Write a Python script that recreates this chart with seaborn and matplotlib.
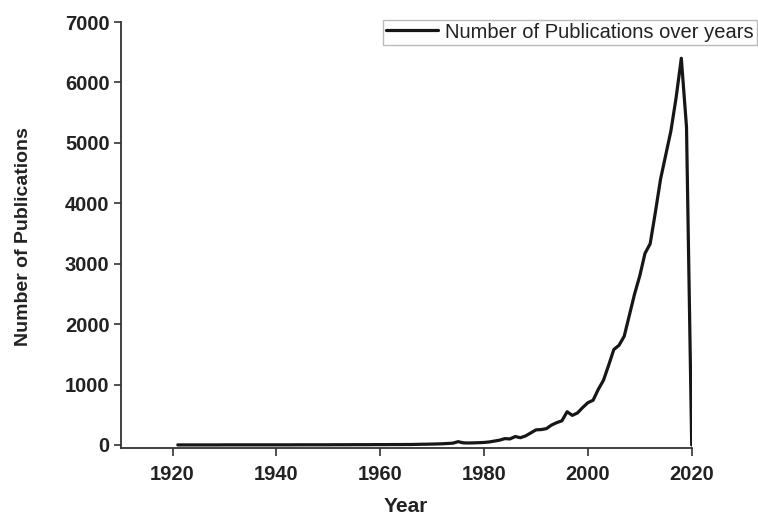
import numpy as np
import pandas as pd
import matplotlib
matplotlib.use("Agg")
import matplotlib.pyplot as plt
import seaborn as sns

years = list(range(1921, 2021))
early_counts = [1, 1, 1, 1, 1, 1, 1, 1, 1, 2,   # 1921-1930
                2, 2, 2, 2, 2, 2, 2, 2, 2, 2,   # 1931-1940
                2, 2, 2, 3, 3, 3, 3, 3, 3, 3,   # 1941-1950
                4, 4, 4, 4, 5, 5, 5, 5, 6, 6,   # 1951-1960
                6, 7, 7, 7, 8]                  # 1961-1965
late_counts = [8, 10, 12, 13, 15, 17, 20, 25, 30, 55,          # 1966-1975
               35, 33, 35, 38, 42, 50, 65, 80, 105, 100,       # 1976-1985
               140, 120, 150, 200, 250, 255, 270, 330, 370, 400,  # 1986-1995
               550, 490, 530, 620, 700, 740, 920, 1070, 1320, 1580,  # 1996-2005
               1650, 1800, 2150, 2500, 2800, 3170, 3330, 3850, 4400, 4800,  # 2006-2015
               5200, 5750, 6400, 5260, 0]                      # 2016-2020
counts = early_counts + late_counts

series_label = "Number of Publications over years"
x_label = "Year"
y_label = "Number of Publications"
x_ticks = [1920, 1940, 1960, 1980, 2000, 2020]
y_ticks = [0, 1000, 2000, 3000, 4000, 5000, 6000, 7000]

df = pd.DataFrame({"Year": years, "Count": counts})

sns.set_style("ticks")
plt.rcParams["font.family"] = ["Liberation Sans", "DejaVu Sans"]

W, H = 758, 518
fig = plt.figure(figsize=(W / 100, H / 100), dpi=100)
ax = fig.add_axes([120.7 / W, 1 - 448.3 / H, (691.7 - 120.7) / W, (448.3 - 22) / H])

sns.lineplot(data=df, x="Year", y="Count", ax=ax, color="#161616",
             linewidth=2.3, label=series_label)

ax.set_xlim(1910, 2020)
ax.set_ylim(-55, 7000)
ax.set_xticks(x_ticks)
ax.set_yticks(y_ticks)
ax.set_xticklabels([str(t) for t in x_ticks], fontsize=14.5, fontweight="bold", color="#222222")
ax.set_yticklabels([str(t) for t in y_ticks], fontsize=14.5, fontweight="bold", color="#222222")
ax.tick_params(axis="x", length=6, width=1.2, pad=6, color="#333333")
ax.tick_params(axis="y", length=5, width=1.2, pad=3, color="#333333")
for s in ["top", "right"]:
    ax.spines[s].set_visible(False)
for s in ["left", "bottom"]:
    ax.spines[s].set_linewidth(1.3)
    ax.spines[s].set_color("#333333")

ax.set_xlabel(x_label, fontsize=15, fontweight="bold", color="#222222")
ax.set_ylabel(y_label, fontsize=14, fontweight="bold", color="#222222")
ax.xaxis.set_label_coords(406 / W, 1 - 497 / H, transform=fig.transFigure)
ax.yaxis.set_label_coords(32 / W, 1 - 237 / H, transform=fig.transFigure)

leg = ax.legend(loc="upper left", bbox_to_anchor=(382.5 / W, 1 - 19.5 / H),
                bbox_transform=fig.transFigure, borderaxespad=0, frameon=True,
                fancybox=False, fontsize=14.5, handlelength=2.6, handletextpad=0.35,
                borderpad=0.15)
frame = leg.get_frame()
frame.set_edgecolor("#aaaaaa")
frame.set_linewidth(1.0)
for t in leg.get_texts():
    t.set_color("#222222")

fig.savefig("out.png", dpi=100)
